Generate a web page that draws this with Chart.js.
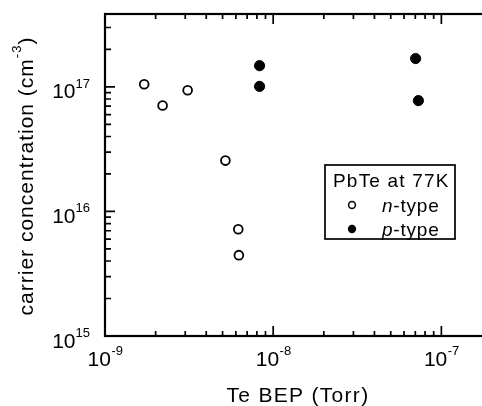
<!DOCTYPE html>
<html>
<head>
<meta charset="utf-8">
<script src="https://cdn.jsdelivr.net/npm/chart.js@4"></script>
<style>
  html, body { margin: 0; padding: 0; overflow: hidden; background: #fff; }
  #wrap { width: 500px; height: 406px; }
</style>
</head>
<body>
<div id="wrap"><canvas id="myChart" width="500" height="406"></canvas></div>
<script>
// n-type samples (open circles)
const nTypeBEP = [1.71e-9, 2.2e-9, 3.1e-9, 5.2e-9, 6.2e-9, 6.25e-9];
const nTypeConc = [1.05e17, 7.1e16, 9.4e16, 2.56e16, 7.2e15, 4.46e15];

// p-type samples (filled circles)
const pTypeBEP = [8.3e-9, 8.3e-9, 7.03e-8, 7.3e-8];
const pTypeConc = [1.48e17, 1.01e17, 1.69e17, 7.76e16];

// decade labels
const xTickExps = ["-9", "-8", "-7"];
const yTickExps = ["15", "16", "17"];

const FONT = '"Liberation Sans", Arial, Helvetica, sans-serif';

function toPoints(xs, ys) {
  return xs.map((x, i) => ({ x: x, y: ys[i] }));
}

// minor + major ticks of a log axis
function logTicks(scale) {
  const out = [];
  const lo = Math.floor(Math.log10(scale.min));
  const hi = Math.ceil(Math.log10(scale.max));
  for (let d = lo; d <= hi; d++) {
    for (let m = 1; m <= 9; m++) {
      const v = m * Math.pow(10, d);
      if (v < scale.min * 0.999 || v > scale.max * 1.001) continue;
      out.push({ px: scale.getPixelForValue(v), major: m === 1 });
    }
  }
  return out;
}

const framePlugin = {
  id: "frame",
  beforeDatasetsDraw(chart) {
    const { ctx, chartArea: a, scales } = chart;
    ctx.save();
    ctx.strokeStyle = "#000";
    ctx.lineWidth = 1.7;
    ctx.beginPath();
    logTicks(scales.x).forEach((t) => {
      const len = t.major ? 10 : 5;
      ctx.moveTo(t.px, a.bottom);
      ctx.lineTo(t.px, a.bottom - len);
      ctx.moveTo(t.px, a.top);
      ctx.lineTo(t.px, a.top + len);
    });
    logTicks(scales.y).forEach((t) => {
      const len = t.major ? 10 : 6;
      ctx.moveTo(a.left, t.px);
      ctx.lineTo(a.left + len, t.px);
      ctx.moveTo(a.right, t.px);
      ctx.lineTo(a.right - len, t.px);
    });
    ctx.stroke();
    ctx.lineWidth = 2.2;
    ctx.strokeRect(a.left, a.top, a.right - a.left, a.bottom - a.top);
    ctx.restore();
  },
  afterDraw(chart) {
    const { ctx, chartArea: a, scales } = chart;
    ctx.save();
    ctx.fillStyle = "#000";
    ctx.textBaseline = "alphabetic";
    ctx.textAlign = "left";

    // x tick labels
    xTickExps.forEach((e) => {
      const px = scales.x.getPixelForValue(Math.pow(10, +e));
      ctx.font = "21px " + FONT;
      const w1 = ctx.measureText("10").width;
      ctx.font = "13px " + FONT;
      const w2 = ctx.measureText(e).width;
      const x0 = px - (w1 + w2) / 2;
      ctx.font = "21px " + FONT;
      ctx.fillText("10", x0, a.bottom + 30);
      ctx.font = "13px " + FONT;
      ctx.fillText(e, x0 + w1 + 0.5, a.bottom + 19);
    });

    // y tick labels
    yTickExps.forEach((e) => {
      const py = scales.y.getPixelForValue(Math.pow(10, +e));
      ctx.font = "13px " + FONT;
      const w2 = ctx.measureText(e).width;
      ctx.font = "21px " + FONT;
      const w1 = ctx.measureText("10").width;
      const xr = a.left - 15;
      ctx.fillText("10", xr - w2 - w1, py + 11.5);
      ctx.font = "13px " + FONT;
      ctx.fillText(e, xr - w2, py + 1);
    });

    // x title
    ctx.font = "21px " + FONT;
    ctx.letterSpacing = "1.3px";
    ctx.textAlign = "center";
    ctx.fillText("Te BEP (Torr)", 298, 402);

    // y title with superscript
    ctx.letterSpacing = "1px";
    ctx.translate(32.5, 176);
    ctx.rotate(-Math.PI / 2);
    ctx.textAlign = "left";
    const main = "carrier concentration (cm";
    ctx.font = "21px " + FONT;
    const wm = ctx.measureText(main).width;
    const wc = ctx.measureText(")").width;
    ctx.font = "13px " + FONT;
    const we = ctx.measureText("-3").width;
    let x = -(wm + we + wc) / 2;
    ctx.font = "21px " + FONT;
    ctx.fillText(main, x, 0);
    x += wm;
    ctx.font = "13px " + FONT;
    ctx.fillText("-3", x, -12);
    x += we;
    ctx.font = "21px " + FONT;
    ctx.fillText(")", x, 0);
    ctx.restore();

    // legend box
    ctx.save();
    ctx.strokeStyle = "#000";
    ctx.lineWidth = 1.7;
    ctx.strokeRect(325, 165, 130, 74);
    ctx.fillStyle = "#000";
    ctx.font = "19px " + FONT;
    ctx.letterSpacing = "1.2px";
    ctx.textAlign = "left";
    ctx.fillText("PbTe at 77K", 333, 186.5);
    ctx.letterSpacing = "0.8px";
    const rows = [
      { y: 205, ds: chart.data.datasets[0], letter: "n" },
      { y: 229, ds: chart.data.datasets[1], letter: "p" },
    ];
    rows.forEach((r) => {
      ctx.beginPath();
      ctx.arc(352, r.y, 3.4, 0, Math.PI * 2);
      ctx.fillStyle = r.ds.backgroundColor;
      ctx.fill();
      ctx.lineWidth = 1.5;
      ctx.strokeStyle = r.ds.borderColor;
      ctx.stroke();
      ctx.fillStyle = "#000";
      ctx.font = "italic 19px " + FONT;
      ctx.fillText(r.letter, 382, r.y + 6.5);
      const wl = ctx.measureText(r.letter).width;
      ctx.font = "19px " + FONT;
      ctx.fillText("-type", 382 + wl, r.y + 6.5);
    });
    ctx.restore();
  },
};

const data = {
  datasets: [
    {
      label: "n-type",
      data: toPoints(nTypeBEP, nTypeConc),
      backgroundColor: "#ffffff",
      borderColor: "#000000",
      borderWidth: 1.8,
      pointRadius: 4.4,
    },
    {
      label: "p-type",
      data: toPoints(pTypeBEP, pTypeConc),
      backgroundColor: "#000000",
      borderColor: "#000000",
      borderWidth: 1,
      pointRadius: 5.1,
    },
  ],
};

// config
const config = {
  type: "scatter",
  data,
  options: {
    responsive: false,
    animation: false,
    layout: { padding: { left: 105, top: 14, right: 8, bottom: 70 } },
    plugins: { legend: { display: false }, tooltip: { enabled: false } },
    scales: {
      x: { type: "logarithmic", min: 1e-9, max: 2e-7, display: false },
      y: { type: "logarithmic", min: 1e15, max: 3.85e17, display: false },
    },
  },
  plugins: [framePlugin],
};

const myChart = new Chart(document.getElementById("myChart"), config);
</script>
</body>
</html>
